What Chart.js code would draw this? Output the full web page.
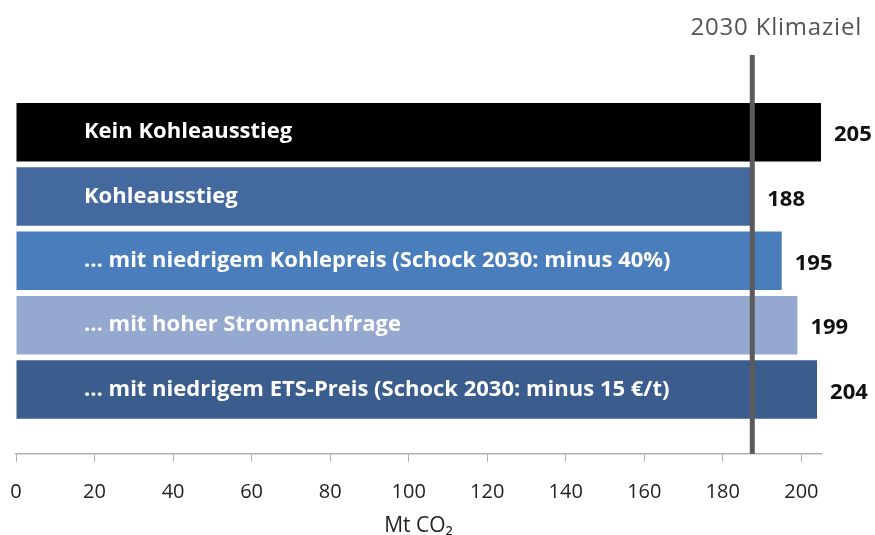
<!DOCTYPE html>
<html>
<head>
<meta charset="utf-8">
<script src="https://cdn.jsdelivr.net/npm/chart.js@4"></script>
<style>
  html, body { margin: 0; padding: 0; background: #ffffff; }
  #wrap { width: 875px; height: 535px; position: relative; }
</style>
</head>
<body>
<div id="wrap"><canvas id="co2Chart"></canvas></div>
<script>
const szenarien = [
  "Kein Kohleausstieg",
  "Kohleausstieg",
  "… mit niedrigem Kohlepreis (Schock 2030: minus 40%)",
  "… mit hoher Stromnachfrage",
  "… mit niedrigem ETS-Preis (Schock 2030: minus 15 €/t)",
];
const emissionen = [205, 188, 195, 199, 204];
const farben = ["#000000", "#44699f", "#4a7dbc", "#94a8d0", "#3b5d8e"];
const xTicks = [0, 20, 40, 60, 80, 100, 120, 140, 160, 180, 200];
const klimaziel = 187.5;
const klimazielText = "2030 Klimaziel";
const achsenTitel = "Mt CO₂";

const FONT = "'Open Sans', Lato, sans-serif";

// labels in the bars, values next to them, target line on top
const beschriftung = {
  id: "beschriftung",
  afterDatasetsDraw(chart) {
    const ctx = chart.ctx;
    const meta = chart.getDatasetMeta(0);
    const x = chart.scales.x;
    ctx.save();
    ctx.textBaseline = "middle";
    meta.data.forEach((bar, i) => {
      ctx.font = "bold 22px " + FONT;
      ctx.fillStyle = "#ffffff";
      ctx.textAlign = "left";
      ctx.fillText(szenarien[i], x.getPixelForValue(0) + 68, bar.y);
      ctx.fillStyle = "#111111";
      ctx.fillText(String(emissionen[i]), bar.x + 13, bar.y + 3);
    });

    const lx = x.getPixelForValue(klimaziel);
    ctx.strokeStyle = "#5b5b5b";
    ctx.lineWidth = 5;
    ctx.beginPath();
    ctx.moveTo(lx, 55);
    ctx.lineTo(lx, chart.chartArea.bottom);
    ctx.stroke();

    ctx.font = "24px " + FONT;
    ctx.letterSpacing = "0.8px";
    ctx.fillStyle = "#555555";
    ctx.textAlign = "center";
    ctx.fillText(klimazielText, lx + 24, 28);
    ctx.restore();
  },
};

window.onload = function () {
  const ctx = document.getElementById("co2Chart").getContext("2d");
  new Chart(ctx, {
    type: "bar",
    data: {
      labels: szenarien,
      datasets: [
        {
          data: emissionen.map((v, i) => ({ x: v, y: i })),
          backgroundColor: farben,
          borderWidth: 0,
          barPercentage: 0.91,
          categoryPercentage: 1,
        },
      ],
    },
    options: {
      indexAxis: "y",
      responsive: true,
      maintainAspectRatio: false,
      animation: false,
      layout: { padding: { top: 100, left: 16, right: 54, bottom: 0 } },
      plugins: {
        legend: { display: false },
        tooltip: { enabled: false },
      },
      scales: {
        y: {
          type: "linear",
          reverse: true,
          offset: false,
          min: -0.5,
          max: 5,
          display: false,
          afterBuildTicks: (scale) => {
            scale.ticks = szenarien.map((s, i) => ({ value: i }));
          },
        },
        x: {
          min: 0,
          max: 205,
          afterBuildTicks: (scale) => {
            scale.ticks = xTicks.map((v) => ({ value: v }));
          },
          afterFit: (scale) => {
            scale.paddingLeft = 0;
            scale.paddingRight = 0;
          },
          border: { display: true, color: "#b0b0b0", width: 1.5 },
          grid: {
            display: true,
            drawOnChartArea: false,
            drawTicks: true,
            tickLength: 8,
            color: "#b0b0b0",
          },
          ticks: {
            color: "#222222",
            font: { family: FONT, size: 20 },
            padding: 18,
            maxRotation: 0,
          },
          title: {
            display: true,
            text: achsenTitel,
            color: "#222222",
            font: { family: FONT, size: 21 },
            padding: { top: -8, bottom: -4 },
          },
        },
      },
    },
    plugins: [beschriftung],
  });
};
</script>
</body>
</html>
